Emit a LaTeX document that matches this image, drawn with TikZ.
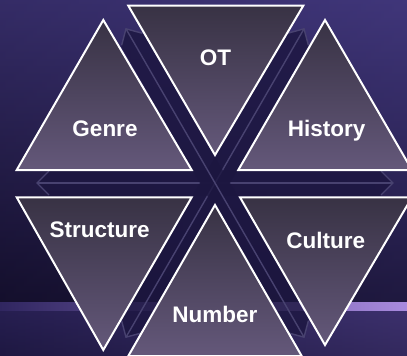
\documentclass[tikz,border=0pt]{standalone}
\usepackage{fontspec}
\setmainfont{Liberation Sans}
\usetikzlibrary{positioning}

\definecolor{bgtop}{RGB}{64,54,122}
\definecolor{bgmid}{RGB}{30,24,66}
\definecolor{bgdark}{RGB}{20,15,44}
\definecolor{bandlo}{RGB}{48,38,96}
\definecolor{glow}{RGB}{168,138,222}
\definecolor{axisfill}{RGB}{28,22,64}
\definecolor{axisline}{RGB}{72,66,112}
\definecolor{tritop}{RGB}{56,50,68}
\definecolor{tribot}{RGB}{100,88,122}

\tikzset{
  tri/.style={draw=white, line width=2pt, line join=miter, top color=tritop, bottom color=tribot},
  label/.style={text=white, font=\fontsize{22.5}{26}\selectfont\bfseries, anchor=base, inner sep=0pt},
  axis/.style={draw=axisline, line width=1.4pt}
}

\begin{document}
\begin{tikzpicture}[x=1pt, y=-1pt]
    \useasboundingbox (0,0) rectangle (407,356);
    \clip (0,0) rectangle (407,356);

    % background
    \fill[top color=bgtop, bottom color=bgdark] (0,0) rectangle (407,303);
    \shade[left color=bgdark, right color=bgtop, opacity=0.25] (0,0) rectangle (407,303);
    \shade[left color=bandlo, right color=glow] (0,302) rectangle (407,311);
    \fill[top color=bandlo, bottom color=bgmid] (0,311) rectangle (407,356);
    \shade[left color=bgmid, right color=bandlo!80!glow, opacity=0.5] (0,311) rectangle (407,356);

    % the three axes behind the triangles
    \coordinate (centre) at (215,183);
    \foreach \ang in {0,60,-60}{
      \begin{scope}[shift={(centre)}, rotate=\ang]
        \fill[axisfill, opacity=0.8] (-178,0) -- (-165,-13) -- (165,-13) -- (178,0) -- (165,13) -- (-165,13) -- cycle;
        \draw[axis] (-178,0) -- (178,0);
        \draw[axis] (166,-12) -- (178,0) -- (166,12);
        \draw[axis] (-166,-12) -- (-178,0) -- (-166,12);
      \end{scope}
    }

    % upper row
    \filldraw[tri] (103.3,20) -- (191.7,170) -- (16.7,170) -- cycle;
    \filldraw[tri] (128.3,5.7) -- (303.3,5.7) -- (215,155) -- cycle;
    \filldraw[tri] (325,20) -- (412,170) -- (238.3,170) -- cycle;

    % lower row
    \filldraw[tri] (16.7,197.3) -- (191.7,197.3) -- (103.3,350) -- cycle;
    \filldraw[tri] (215,205) -- (301.7,356) -- (128.3,356) -- cycle;
    \filldraw[tri] (240,197.3) -- (412,197.3) -- (325,345) -- cycle;

    % labels
    \node[label] (genre) at (105,136) {Genre};
    \node[label] (ot) at (215.5,65.7) {OT};
    \node[label] (history) at (326.7,136) {History};
    \node[label] (structure) at (99.7,237.7) {Structure};
    \node[label] (culture) at (325.8,248.3) {Culture};
    \node[label] (number) at (215,322.5) {Number};
\end{tikzpicture}
\end{document}
